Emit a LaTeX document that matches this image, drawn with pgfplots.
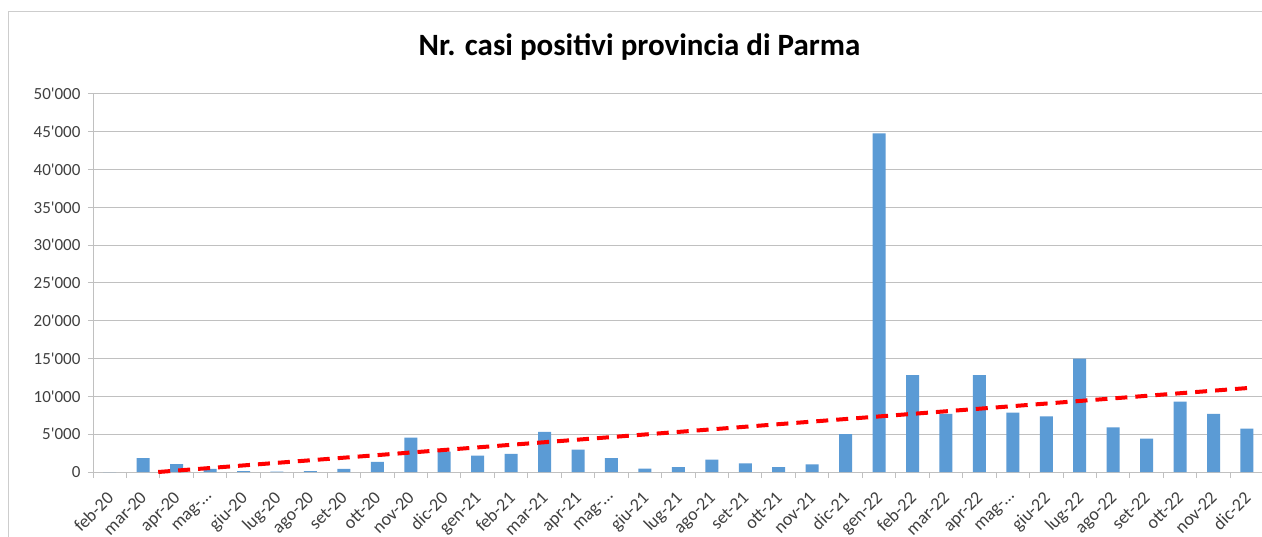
\documentclass[border=0pt]{standalone}
\usepackage{pgfplots}
\pgfplotsset{compat=1.18}
\usepackage{fontspec}
\setmainfont{Carlito}
\newfontfamily\carl{Carlito}
\definecolor{barblue}{HTML}{5B9BD5}
\definecolor{gridgray}{HTML}{C0C0C0}
\definecolor{txtgray}{HTML}{404040}
\pgfplotstableread{
x y
0 0
1 1850
2 1050
3 400
4 100
5 40
6 100
7 400
8 1350
9 4550
10 2700
11 2150
12 2400
13 5300
14 2950
15 1850
16 450
17 650
18 1650
19 1150
20 650
21 1000
22 5000
23 44800
24 12800
25 7700
26 12800
27 7850
28 7350
29 15000
30 5900
31 4400
32 9300
33 7700
34 5750
}\casi
\begin{document}
\begin{tikzpicture}[x=1pt,y=1pt]
\useasboundingbox (0,0) rectangle (1262,536);
\fill[white] (0,0) rectangle (1262,536);
\draw[gridgray!80, line width=1pt] (8,-2) -- (8,524) -- (1264,524);
\node[font=\carl\bfseries\fontsize{31}{31}\selectfont, anchor=base, text=black] at (639.5,480) {Nr. casi positivi provincia di Parma};
\begin{axis}[
  at={(93pt,64pt)}, anchor=south west, scale only axis,
  width=1169pt, height=378pt,
  xmin=-0.5, xmax=34.45, ymin=0, ymax=50000,
  scaled y ticks=false,
  axis x line=bottom, axis y line=left,
  axis line style={-, draw=gridgray, line width=1pt},
  tick align=outside,
  ytick={0,5000,...,50000},
  yticklabels={0,5'000,10'000,15'000,20'000,25'000,30'000,35'000,40'000,45'000,50'000},
  ymajorgrids, grid style={draw=gridgray, line width=1pt},
  major tick length=5pt, minor tick length=6pt,
  ytick style={draw=gridgray, line width=1pt},
  xtick={0,...,34},
  xticklabels={feb-20,mar-20,apr-20,mag-…,giu-20,lug-20,ago-20,set-20,ott-20,nov-20,dic-20,gen-21,feb-21,mar-21,apr-21,mag-…,giu-21,lug-21,ago-21,set-21,ott-21,nov-21,dic-21,gen-22,feb-22,mar-22,apr-22,mag-…,giu-22,lug-22,ago-22,set-22,ott-22,nov-22,dic-22},
  major x tick style={draw=none},
  minor xtick={-0.5,0.5,...,34.5},
  minor x tick style={draw=gridgray, line width=1pt},
  xticklabel style={font=\carl\fontsize{18}{18}\selectfont, text=txtgray, inner sep=1pt, xshift=-4pt, yshift=-12pt, rotate=45, anchor=north east},
  yticklabel style={font=\carl\fontsize{17}{17}\selectfont, text=txtgray, xshift=-4pt},
  clip=false,
]
\addplot[ybar, bar width=13pt, fill=barblue, draw=none] table[x=x,y=y] {\casi};
\addplot[draw=red, line width=4pt, dash pattern=on 12pt off 8pt] coordinates {(1.45,0) (34,11100)};
\end{axis}
\end{tikzpicture}
\end{document}
